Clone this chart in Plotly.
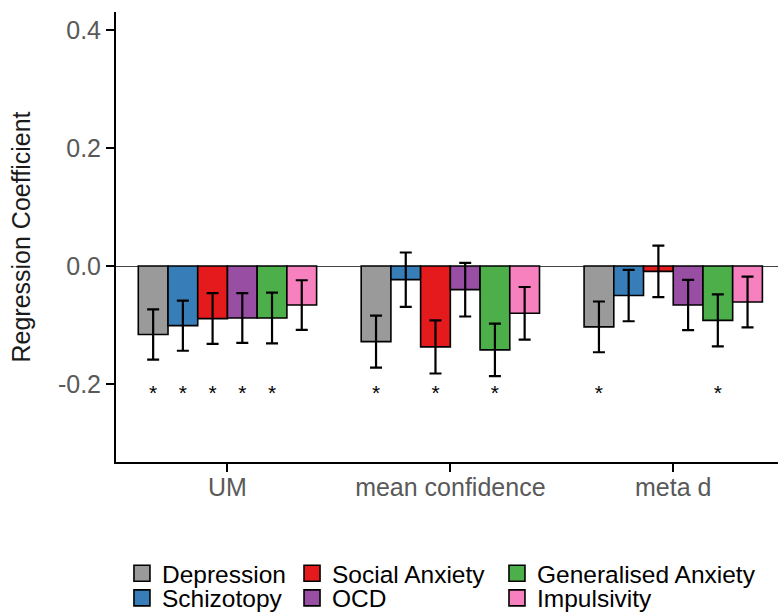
import plotly.graph_objects as go

# ---------------- data ----------------
groups = ["UM", "mean confidence", "meta d"]
traits = ["Depression", "Schizotopy", "Social Anxiety", "OCD",
          "Generalised Anxiety", "Impulsivity"]

# regression coefficients per trait (UM, mean confidence, meta d)
depression = [-0.116, -0.128, -0.103]
schizotopy = [-0.101, -0.023, -0.050]
social_anxiety = [-0.089, -0.137, -0.009]
ocd = [-0.088, -0.040, -0.066]
generalised_anxiety = [-0.088, -0.142, -0.092]
impulsivity = [-0.066, -0.080, -0.061]

# error bar half-widths
depression_err = [0.0425, 0.044, 0.043]
schizotopy_err = [0.0425, 0.046, 0.0435]
social_anxiety_err = [0.043, 0.045, 0.0435]
ocd_err = [0.042, 0.0455, 0.0425]
generalised_anxiety_err = [0.043, 0.0445, 0.044]
impulsivity_err = [0.042, 0.0445, 0.043]

# significance flags (star shown)
depression_sig = [True, True, True]
schizotopy_sig = [True, False, False]
social_anxiety_sig = [True, True, False]
ocd_sig = [True, False, False]
generalised_anxiety_sig = [True, True, True]
impulsivity_sig = [False, False, False]

star_level = -0.2
y_ticks = [-0.2, 0.0, 0.2, 0.4]
y_tick_labels = ["-0.2", "0.0", "0.2", "0.4"]

# ---------------- styling ----------------
colors = ["#9A9A9A", "#377EB8", "#E41A1C", "#984EA3", "#4DAF4A", "#F781BF"]
values = [depression, schizotopy, social_anxiety, ocd, generalised_anxiety, impulsivity]
errors = [depression_err, schizotopy_err, social_anxiety_err, ocd_err,
          generalised_anxiety_err, impulsivity_err]
sigs = [depression_sig, schizotopy_sig, social_anxiety_sig, ocd_sig,
        generalised_anxiety_sig, impulsivity_sig]

FONT = "Liberation Sans, Arial, sans-serif"
bargap = 0.2
group_pos = list(range(len(groups)))
slot = (1 - bargap) / len(traits)

fig = go.Figure()

for i, t in enumerate(traits):
    fig.add_trace(go.Bar(
        x=group_pos, y=values[i], name=t,
        marker=dict(color=colors[i], line=dict(color="black", width=1.6)),
        error_y=dict(type="data", array=errors[i], color="black",
                     thickness=2.2, width=6),
        showlegend=False,
    ))

# significance stars
sx, sy = [], []
for i, t in enumerate(traits):
    for g in group_pos:
        if sigs[i][g]:
            sx.append(g + (i - (len(traits) - 1) / 2) * slot)
            sy.append(star_level)
fig.add_trace(go.Scatter(
    x=sx, y=sy, mode="text", text=["*"] * len(sx),
    textfont=dict(size=21, color="black", family=FONT),
    textposition="bottom center", showlegend=False, hoverinfo="skip",
    cliponaxis=False,
))

# legend entries (one legend per entry, laid out in 3 columns x 2 rows)
legend_names = ["legend", "legend2", "legend3", "legend4", "legend5", "legend6"]
col_x = [0.009, 0.2659, 0.5755]
row_y = [-0.2473, -0.3022]
legend_layout = {}
for i, t in enumerate(traits):
    fig.add_trace(go.Scatter(
        x=[None], y=[None], mode="markers", name=t,
        marker=dict(symbol="square", size=16, color=colors[i],
                    line=dict(color="black", width=1.6)),
        legend=legend_names[i], showlegend=True,
    ))
    col = i // 2
    row = i % 2
    legend_layout[legend_names[i]] = dict(
        x=col_x[col], y=row_y[row], xanchor="left", yanchor="middle",
        orientation="v", bgcolor="rgba(0,0,0,0)", borderwidth=0,
        font=dict(family=FONT, size=24.5, color="black"),
        itemsizing="trace",
    )

fig.update_layout(
    width=778, height=613,
    margin=dict(l=116, r=0, t=12, b=151, pad=0, autoexpand=False),
    paper_bgcolor="white", plot_bgcolor="white",
    barmode="group", bargap=bargap, bargroupgap=0,
    font=dict(family=FONT, color="black"),
    **legend_layout,
)

fig.update_xaxes(
    range=[-0.5, 2.47], tickvals=group_pos, ticktext=groups,
    showline=True, linecolor="black", linewidth=2,
    ticks="outside", ticklen=8, tickwidth=2, tickcolor="black",
    tickfont=dict(family=FONT, size=25, color="#595959"),
    ticklabelstandoff=-6,
    showgrid=False, zeroline=False,
)
fig.update_yaxes(
    range=[-0.332, 0.4305], tickvals=y_ticks, ticktext=y_tick_labels,
    showline=True, linecolor="black", linewidth=2,
    ticks="outside", ticklen=8, tickwidth=2, tickcolor="black",
    tickfont=dict(family=FONT, size=25, color="#595959"),
    showgrid=False, zeroline=True, zerolinecolor="#444444", zerolinewidth=1.2,
    title=dict(text="Regression Coefficient",
               font=dict(family=FONT, size=25, color="#1a1a1a"), standoff=20),
)

fig.write_html("out.html")
